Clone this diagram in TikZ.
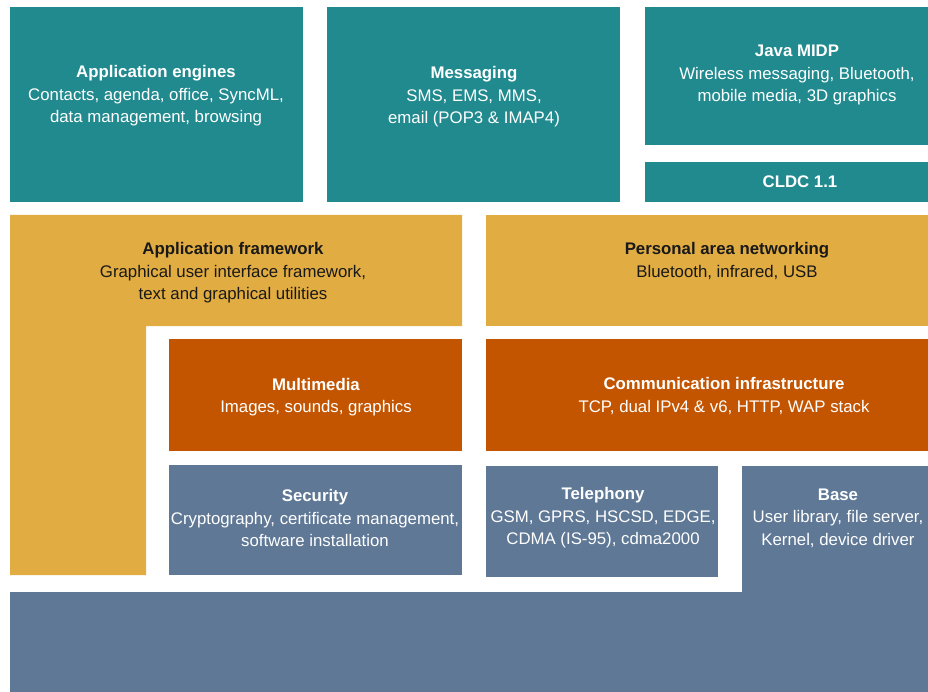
\documentclass[tikz,border=0pt]{standalone}
\usepackage{fontspec}
\setmainfont{Liberation Sans}

\definecolor{appteal}{HTML}{218A8F}
\definecolor{frameyellow}{HTML}{E1AC41}
\definecolor{infraorange}{HTML}{C45500}
\definecolor{baseblue}{HTML}{5F7896}

\tikzset{
    layer/.style={font=\fontsize{16.8}{22.5}\selectfont, align=center, inner sep=0pt},
    ontext/.style={layer, text=white},
    offtext/.style={layer, text=black!90}
}

\begin{document}
\begin{tikzpicture}[x=1pt, y=-1pt]
        \useasboundingbox (0,0) rectangle (928,692);

        % top row
        \fill [appteal] (10,7) rectangle (303,202);
        \fill [appteal] (327,7) rectangle (620,202);
        \fill [appteal] (645,7) rectangle (928,145);
        \fill [appteal] (645,162) rectangle (928,202);

        \node[ontext] (engines) at (156,96) {\textbf{Application engines}\\Contacts, agenda, office, SyncML,\\data management, browsing};
        \node[ontext] (messaging) at (474,97) {\textbf{Messaging}\\SMS, EMS, MMS,\\email (POP3 \& IMAP4)};
        \node[ontext] (midp) at (797,75) {\textbf{Java MIDP}\\Wireless messaging, Bluetooth,\\mobile media, 3D graphics};
        \node[ontext] (cldc) at (800,182) {\textbf{CLDC 1.1}};

        % framework row
        \fill [frameyellow] (10,215) -- (462,215) -- (462,326) -- (146,326) -- (146,575) -- (10,575) -- cycle;
        \fill [frameyellow] (486,215) rectangle (928,326);

        \node[offtext] (framework) at (233,273) {\textbf{Application framework}\\Graphical user interface framework,\\text and graphical utilities};
        \node[offtext] (pan) at (727,261) {\textbf{Personal area networking}\\Bluetooth, infrared, USB};

        % infrastructure row
        \fill [infraorange] (169,339) rectangle (462,451);
        \fill [infraorange] (486,339) rectangle (928,451);

        \node[ontext] (multimedia) at (316,397) {\textbf{Multimedia}\\Images, sounds, graphics};
        \node[ontext] (comms) at (724,396) {\textbf{Communication infrastructure}\\TCP, dual IPv4 \& v6, HTTP, WAP stack};

        % base row
        \fill [baseblue] (169,465) rectangle (462,575);
        \fill [baseblue] (486,466) rectangle (718,577);
        \fill [baseblue] (742,466) -- (928,466) -- (928,692) -- (10,692) -- (10,592) -- (742,592) -- cycle;

        \node[ontext] (security) at (315,518) {\textbf{Security}\\Cryptography, certificate management,\\software installation};
        \node[ontext] (telephony) at (603,518) {\textbf{Telephony}\\GSM, GPRS, HSCSD, EDGE,\\CDMA (IS-95), cdma2000};
        \node[ontext] (base) at (838,518) {\textbf{Base}\\User library, file server,\\Kernel, device driver};
    \end{tikzpicture}
\end{document}
